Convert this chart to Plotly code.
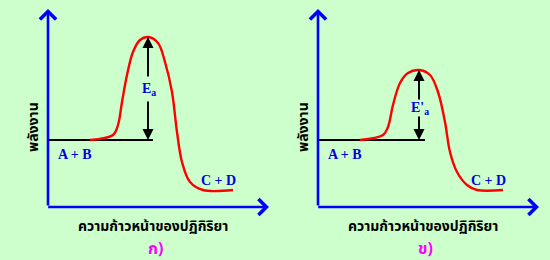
import plotly.graph_objects as go

# ---- data (energy units above the x axis, reaction progress from the y axis) ----
progress_a = [42, 65, 70, 74, 79, 85, 92, 100, 110, 117, 124, 129, 134, 142, 155, 185]
energy_a = [67, 72, 82, 105, 132, 155, 167, 170, 164, 145, 115, 75, 45, 25, 17, 17]
progress_b = [42, 65, 70, 75, 82, 90, 101, 112, 120, 127, 132, 139, 149, 159, 185]
energy_b = [67, 72, 80, 102, 124, 134, 137, 132, 115, 85, 55, 35, 22, 17, 17]

reactant_energy = 67
product_energy = 17
peak_energy = [170, 137]
peak_progress = [100, 101]
baseline_end = [105, 107]
ea_labels = ["E<sub>a</sub>", "E'<sub>a</sub>"]
ea_label_y = [118, 99]
ea_gap = [(129, 107), (106, 92)]
panel_labels = ["ก)", "ข)"]
x_title = "ความก้าวหน้าของปฏิกิริยา"
y_title = "พลังงาน"
reactant_label = "A + B"
product_label = "C + D"

BG = "#CCFFCC"
AXIS = "#0000FF"
TXT = "#0000DD"
THAI = "Noto Sans Thai, Loma, Tlwg Typo, Garuda, sans-serif"
SERIF = "Liberation Serif, Times New Roman, serif"

fig = go.Figure()

curves = [(progress_a, energy_a), (progress_b, energy_b)]
xrefs = ["x", "x2"]
yrefs = ["y", "y2"]

for i in range(2):
    xr, yr = xrefs[i], yrefs[i]
    px, en = curves[i]
    # reactant baseline
    fig.add_trace(go.Scatter(x=[0, baseline_end[i]], y=[reactant_energy, reactant_energy],
                             mode="lines", line=dict(color="#000000", width=2),
                             xaxis=xr, yaxis=yr, showlegend=False, hoverinfo="skip"))
    # energy curve
    fig.add_trace(go.Scatter(x=px, y=en, mode="lines",
                             line=dict(color="#FF0000", width=2.4, shape="spline", smoothing=1.0),
                             xaxis=xr, yaxis=yr, showlegend=False, hoverinfo="skip"))
    # axes with arrows
    fig.add_annotation(x=0, y=198, ax=0, ay=0, xref=xr, yref=yr, axref=xr, ayref=yr,
                       showarrow=True, arrowhead=4, arrowsize=1.2, arrowwidth=2.6,
                       arrowcolor=AXIS, text="")
    fig.add_annotation(x=221, y=0, ax=-1.3, ay=0, xref=xr, yref=yr, axref=xr, ayref=yr,
                       showarrow=True, arrowhead=4, arrowsize=1.2, arrowwidth=2.6,
                       arrowcolor=AXIS, text="")
    # activation energy arrows
    top_gap, bot_gap = ea_gap[i]
    fig.add_annotation(x=peak_progress[i], y=peak_energy[i], ax=peak_progress[i], ay=top_gap,
                       xref=xr, yref=yr, axref=xr, ayref=yr, showarrow=True, arrowhead=2,
                       arrowsize=1.1, arrowwidth=2, arrowcolor="#000000", text="")
    fig.add_annotation(x=peak_progress[i], y=reactant_energy, ax=peak_progress[i], ay=bot_gap,
                       xref=xr, yref=yr, axref=xr, ayref=yr, showarrow=True, arrowhead=2,
                       arrowsize=1.1, arrowwidth=2, arrowcolor="#000000", text="")
    fig.add_annotation(x=peak_progress[i] + 1, y=ea_label_y[i], xref=xr, yref=yr,
                       text="<b>" + ea_labels[i] + "</b>", showarrow=False,
                       font=dict(family=SERIF, size=14, color=TXT))
    # species labels
    fig.add_annotation(x=27, y=reactant_energy - 14, xref=xr, yref=yr,
                       text="<b>" + reactant_label + "</b>", showarrow=False,
                       font=dict(family=SERIF, size=14, color=TXT))
    fig.add_annotation(x=170, y=product_energy + 10, xref=xr, yref=yr,
                       text="<b>" + product_label + "</b>", showarrow=False,
                       font=dict(family=SERIF, size=14, color=TXT))
    # axis titles
    fig.add_annotation(x=105, y=-19, xref=xr, yref=yr,
                       text="<b>" + x_title + "</b>", showarrow=False,
                       font=dict(family=THAI, size=14, color="#000000"))
    fig.add_annotation(x=-15, y=80, xref=xr, yref=yr, textangle=-90,
                       text="<b>" + y_title + "</b>", showarrow=False,
                       font=dict(family=THAI, size=14, color="#000000"))
    fig.add_annotation(x=107, y=-42, xref=xr, yref=yr,
                       text="<b>" + panel_labels[i] + "</b>", showarrow=False,
                       font=dict(family=THAI, size=16, color="#FF00FF"))

axis_common = dict(visible=False, showgrid=False, zeroline=False, fixedrange=True)
fig.update_layout(
    width=550, height=260,
    margin=dict(l=0, r=0, t=0, b=0),
    paper_bgcolor=BG, plot_bgcolor=BG,
    showlegend=False,
    xaxis=dict(domain=[0, 0.5], range=[-48, 227], **axis_common),
    xaxis2=dict(domain=[0.5, 1], range=[-43, 232], **axis_common),
    yaxis=dict(domain=[0, 1], range=[-53, 207], **axis_common),
    yaxis2=dict(domain=[0, 1], range=[-53, 207], anchor="x2", **axis_common),
)

fig.write_html("out.html")
